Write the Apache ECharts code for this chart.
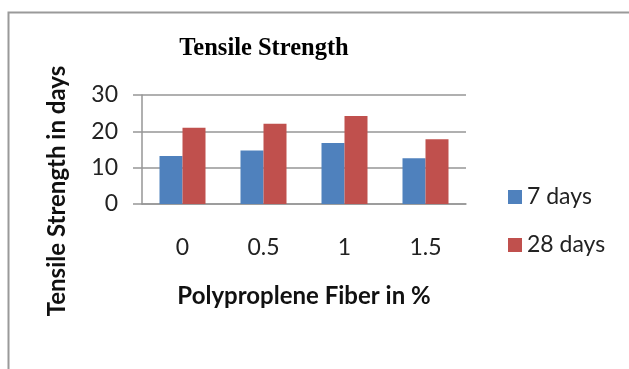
<!DOCTYPE html>
<html>
<head>
<meta charset="utf-8">
<script src="https://cdn.jsdelivr.net/npm/echarts@6/dist/echarts.min.js"></script>
<style>html,body{margin:0;padding:0;background:#fff}#c{width:629px;height:369px}</style>
</head>
<body>
<div id="c"></div>
<script>
const categories = ['0', '0.5', '1', '1.5'];
const days7 = [13.2, 14.7, 16.8, 12.6];
const days28 = [21.0, 22.1, 24.2, 17.8];
const yTicks = [0, 10, 20, 30];

const chart = echarts.init(document.getElementById('c'));
const labelFont = 'Lato, "Open Sans", sans-serif';
chart.setOption({
  animation: false,
  graphic: [{
    type: 'rect', left: 6, top: 10,
    shape: { width: 700, height: 400 },
    style: { fill: 'none', stroke: '#9a9a9a', lineWidth: 2 }
  }, {
    type: 'text', x: 57, y: 191, rotation: Math.PI / 2,
    style: {
      text: 'Tensile Strength in days', align: 'center', verticalAlign: 'middle',
      font: 'bold 24px Lato, "Open Sans", sans-serif', fill: '#111'
    }
  }],
  title: {
    text: 'Tensile Strength', left: 259, top: 31, textAlign: 'center',
    textStyle: { fontFamily: '"Liberation Serif", serif', fontWeight: 'bold', fontSize: 24.5, color: '#000' }
  },
  legend: {
    orient: 'vertical', left: 508, top: 185, padding: 0, itemWidth: 14, itemHeight: 14, itemGap: 24,
    icon: 'rect',
    textStyle: { fontFamily: labelFont, fontSize: 23, lineHeight: 24, color: '#222', padding: [0, 0, 0, 0] },
    data: ['7 days', '28 days']
  },
  grid: { left: 142, right: 163, top: 95, bottom: 165, containLabel: false },
  xAxis: {
    type: 'category', data: categories,
    name: 'Polyproplene Fiber in %', nameLocation: 'middle', nameGap: 80,
    nameTextStyle: { fontFamily: labelFont, fontWeight: 'bold', fontSize: 24, color: '#111' },
    axisLine: { lineStyle: { color: '#969696', width: 1.5 } },
    axisTick: { show: false },
    axisLabel: { margin: 32, fontFamily: labelFont, fontSize: 23, color: '#222' }
  },
  yAxis: {
    type: 'value', min: yTicks[0], max: yTicks[yTicks.length - 1], interval: 10,
    axisLine: { show: true, lineStyle: { color: '#969696', width: 1.5 } },
    axisTick: { show: true, length: 9, lineStyle: { color: '#969696', width: 1.5 } },
    splitLine: { lineStyle: { color: '#969696', width: 1.5 } },
    axisLabel: { margin: 24, fontFamily: labelFont, fontSize: 23, color: '#222' }
  },
  series: [
    { name: '7 days', type: 'bar', data: days7, barWidth: 23, barGap: '0%', itemStyle: { color: '#4F81BD' } },
    { name: '28 days', type: 'bar', data: days28, barWidth: 23, barGap: '0%', itemStyle: { color: '#C0504D' } }
  ]
});
</script>
</body>
</html>
